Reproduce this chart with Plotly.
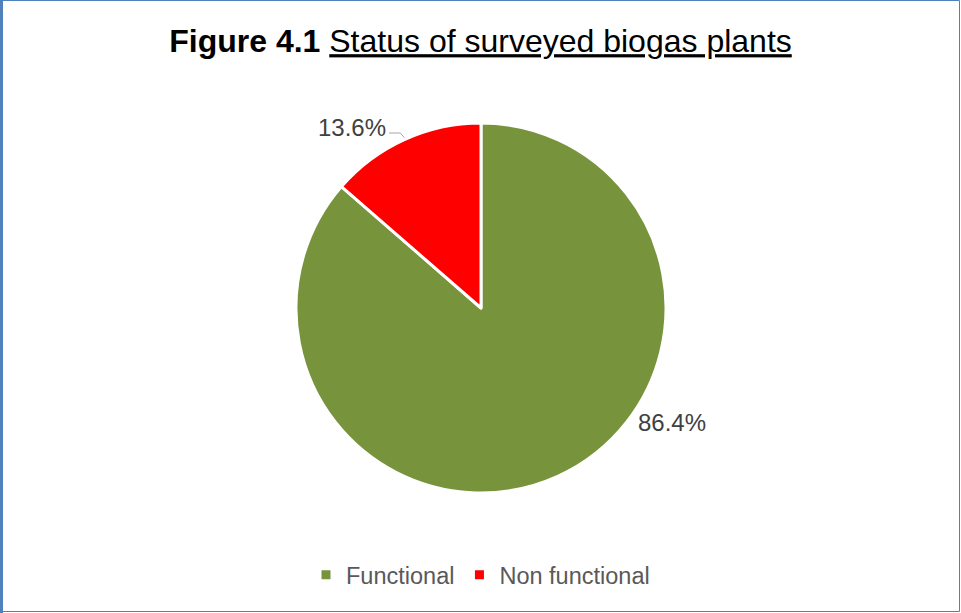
import math
import plotly.graph_objects as go

labels = ["Functional", "Non functional"]
values = [86.4, 13.6]
colors = ["#77933C", "#FF0000"]
label_text = ["86.4%", "13.6%"]

W, H = 961, 613
cx, cy, R = 481, 308, 185

def px(x):
    return x / W

def py(y):
    return 1 - y / H

fig = go.Figure()
fig.add_trace(go.Pie(
    labels=labels,
    values=values,
    marker=dict(colors=colors, line=dict(color="white", width=3)),
    sort=False,
    direction="clockwise",
    rotation=0,
    textinfo="none",
    hoverinfo="label+percent",
    domain=dict(x=[px(cx - R), px(cx + R)], y=[py(cy + R), py(cy - R)]),
))

total = sum(values)
annos = []
label_pos = [(672, 422), (352, 128)]
for i, t in enumerate(label_text):
    annos.append(dict(x=px(label_pos[i][0]), y=py(label_pos[i][1]), xref="paper", yref="paper",
                      text=t, showarrow=False, font=dict(size=24, color="#404040"),
                      xanchor="center", yanchor="middle"))

start = values[0] / total * 360
mid = start + values[1] / total * 360 / 2
ex = cx + R * math.sin(math.radians(mid))
ey = cy - R * math.cos(math.radians(mid))
shapes = [
    dict(type="path", xref="paper", yref="paper",
         path=f"M {px(389)} {py(133)} L {px(ex - 4)} {py(133)} L {px(ex)} {py(ey - 2)}",
         line=dict(color="#A6A6A6", width=1)),
    dict(type="rect", xref="paper", yref="paper", x0=px(0.5), x1=px(W - 1.5), y0=py(H - 1.5), y1=py(0.5),
         line=dict(color="#4F81BD", width=1)),
    dict(type="line", xref="paper", yref="paper", x0=px(1.5), x1=px(1.5), y0=0, y1=1,
         line=dict(color="#4F81BD", width=3)),
]

fig.update_layout(
    width=W, height=H,
    margin=dict(l=0, r=0, t=0, b=0),
    paper_bgcolor="white",
    font=dict(family="Liberation Sans, Arial, sans-serif", color="#595959"),
    title=dict(text="<b>Figure 4.1</b> <u>Status of surveyed biogas plants</u>",
               x=0.5, xanchor="center", y=py(41), yanchor="middle",
               font=dict(size=32, color="black", family="Liberation Sans, Arial, sans-serif")),
    showlegend=True,
    legend=dict(orientation="h", x=0.5, xanchor="center", y=py(575), yanchor="middle",
                font=dict(size=23.5, color="#595959"), itemwidth=30),
    annotations=annos,
    shapes=shapes,
)

fig.write_html("out.html")
